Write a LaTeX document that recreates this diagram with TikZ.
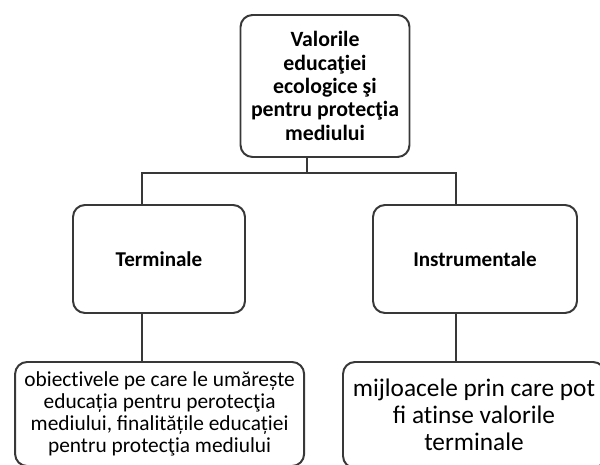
\documentclass[tikz,border=0pt]{standalone}
\usepackage{fontspec}
\setmainfont{Carlito}
\usetikzlibrary{positioning}
\usetikzlibrary{calc}

\definecolor{linie}{gray}{0.22}

\begin{document}
\begin{tikzpicture}[auto,
    box/.style={draw=linie, line width=1.4pt, rounded corners=0.3cm, align=center, inner sep=0pt},
    leg/.style={draw=linie, line width=1.4pt}]

    \useasboundingbox (0,0) rectangle (15,11.625);
    \clip (0,0) rectangle (15,11.625);

    % noduri
    \node[box, minimum width=4.225cm, minimum height=3.55cm, font=\fontsize{15.5}{16.6}\selectfont\bfseries] (val) at (8.125,9.475)
        {Valorile\\educaţiei\\ecologice şi\\pentru protecţia\\mediului};
    \node[box, minimum width=4.3cm, minimum height=2.7cm, font=\fontsize{15}{17}\selectfont\bfseries] (term) at (3.975,5.15) {Terminale};
    \node[box, minimum width=5.1cm, minimum height=2.7cm, font=\fontsize{15}{17}\selectfont\bfseries] (instr) at (11.875,5.15) {Instrumentale};
    \node[box, minimum width=7.225cm, minimum height=2.6cm, font=\fontsize{15.2}{15.8}\selectfont] (obj) at (3.99,1.275)
        {obiect\kern0ptivele pe care le umărește\\educația pentru perotecţia\\mediului, finalitățile educației\\pentru protecţia mediului};
    \node[box, minimum width=6.55cm, minimum height=2.65cm, font=\fontsize{18}{19.4}\selectfont] (mij) at (11.85,1.25)
        {mijloacele prin care pot\\fi at\kern0ptinse valorile\\terminale};

    % legaturi
    \coordinate (v0) at ([xshift=-0.45cm]val.south);
    \coordinate (t0) at ([xshift=-0.425cm]term.north);
    \coordinate (i0) at ([xshift=-0.475cm]instr.north);
    \draw[leg] (v0) -- ++(0,-0.375) coordinate (bus);
    \draw[leg] (t0) |- (bus) -| (i0);
    \draw[leg] ([xshift=-0.425cm]term.south) -- (obj.north -| t0);
    \draw[leg] ([xshift=-0.475cm]instr.south) -- (mij.north -| i0);
\end{tikzpicture}
\end{document}
